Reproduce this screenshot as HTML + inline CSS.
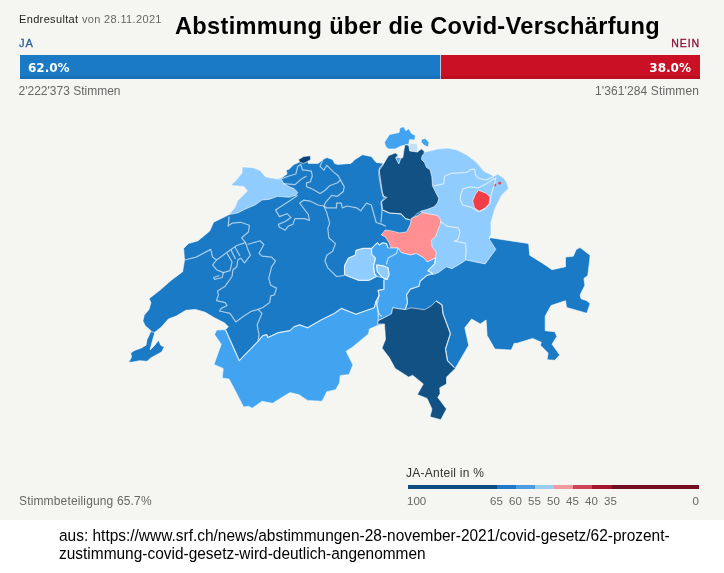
<!DOCTYPE html>
<html lang="de">
<head>
<meta charset="utf-8">
<title>Abstimmung über die Covid-Verschärfung</title>
<style>
html,body{margin:0;padding:0;}
body{width:724px;height:573px;background:#fff;position:relative;overflow:hidden;font-family:"Liberation Sans","DejaVu Sans",sans-serif;}
#panel{position:absolute;left:0;top:0;width:724px;height:520px;background:#f5f5f2;}
.abs{position:absolute;white-space:nowrap;line-height:1;}
#head{left:19px;top:14px;font-size:11px;letter-spacing:0.35px;color:#222;}
#head span{color:#666;}
#title{left:175px;top:15.2px;font-size:23.6px;letter-spacing:0.31px;font-weight:bold;color:#000;}
#ja{left:19px;top:38px;font-size:11px;color:#2d5f9e;letter-spacing:1px;-webkit-text-stroke:0.3px #2d5f9e;}
#nein{right:24px;top:37.5px;font-size:10.5px;color:#8a1538;letter-spacing:0.9px;-webkit-text-stroke:0.3px #8a1538;}
#bar{position:absolute;left:20px;top:55px;width:680px;height:24px;background:#c91024;}
#barja{position:absolute;left:0;top:0;width:420px;height:24px;background:#1a7ac5;border-right:1px solid #b9c9dc;}
#bar:after{content:"";position:absolute;left:0;right:0;bottom:0;height:3px;background:rgba(0,0,0,0.07);}
.pct{font-family:"DejaVu Sans","Liberation Sans",sans-serif;font-weight:bold;font-size:12px;color:#fff;top:7px;}
.sub{font-size:12px;color:#666;top:85px;}
#turn{left:19px;top:495px;font-size:12px;letter-spacing:0.15px;color:#666;}
#legt{left:406px;top:467px;font-size:12px;letter-spacing:0.25px;color:#333;}
#legbar{position:absolute;left:407.5px;top:485px;width:292px;height:4px;}
#legbar i{position:absolute;top:0;height:4px;display:block;}
.ll{top:495.5px;font-size:11.5px;color:#666;}
#foot{position:absolute;left:59px;top:526.2px;font-size:16.3px;line-height:18px;color:#000;white-space:nowrap;transform:scaleX(0.949);transform-origin:0 0;}
#map{position:absolute;left:0;top:0;}
</style>
</head>
<body>
<div id="panel">
<div class="abs" id="head">Endresultat <span>von 28.11.2021</span></div>
<div class="abs" id="title">Abstimmung über die Covid-Verschärfung</div>
<div class="abs" id="ja">JA</div>
<div class="abs" id="nein">NEIN</div>
<div id="bar"><div id="barja"></div>
<div class="abs pct" style="left:8px">62.0%</div>
<div class="abs pct" style="right:9px">38.0%</div>
</div>
<div class="abs sub" style="left:18.5px">2'222'373 Stimmen</div>
<div class="abs sub" style="right:25px;letter-spacing:0.12px">1'361'284 Stimmen</div>
<svg id="map" width="724" height="519" viewBox="0 0 724 519">
<!--MAP-->
<g stroke="#ffffff" stroke-width="1" stroke-linejoin="round" stroke-opacity="0.6">
<polygon points="128.7,362.6 131.6,356.8 130.6,353.0 134.5,350.4 141.3,348.0 146.0,345.2 147.0,339.4 149.0,335.5 151.0,330.7 145.2,325.8 142.9,321.0 144.2,315.2 149.0,309.4 151.0,302.6 149.0,298.7 161.3,289.1 171.0,280.4 182.6,271.7 184.5,260.0 183.6,248.4 188.4,243.6 198.1,240.7 209.7,231.0 213.6,222.3 225.2,216.5 229.1,214.5 235.0,207.5 237.5,201.0 247.5,191.0 244.0,186.5 231.0,185.4 236.4,180.0 242.0,173.0 242.3,167.0 253.0,167.7 260.0,170.5 265.8,177.0 277.4,178.9 281.3,177.9 287.1,174.0 286.1,170.2 289.0,169.2 293.9,164.4 298.7,162.4 299.7,158.6 303.6,156.6 310.3,155.7 310.7,159.5 307.4,161.5 308.4,163.4 318.1,163.4 322.9,159.5 326.8,157.6 332.6,159.5 334.6,163.4 337.5,164.4 351.0,163.4 354.9,159.5 362.6,154.7 371.4,156.6 376.2,162.4 383.9,163.4 388.4,155.8 395.2,152.9 398.3,155.0 396.5,157.2 400.6,157.7 402.8,157.7 403.7,151.4 405.0,144.7 408.7,145.2 409.7,151.0 417.4,152.0 421.3,149.0 424.2,151.0 425.2,152.0 437.8,149.0 447.5,148.1 457.1,150.0 466.8,154.9 475.5,161.6 484.2,171.3 494.0,176.2 497.8,174.2 503.6,178.1 506.5,182.0 508.5,188.7 507.4,189.4 501.6,195.2 494.9,208.7 491.0,222.3 491.0,234.0 489.0,238.7 491.0,237.8 528.7,243.6 529.7,255.2 545.2,264.9 552.0,269.7 565.5,266.8 565.5,257.1 573.3,256.2 576.2,249.4 580.0,247.5 590.1,255.2 589.7,260.0 587.8,275.5 583.9,278.4 584.9,285.2 580.1,294.9 581.0,298.7 586.8,300.7 590.1,303.6 586.8,313.3 566.5,307.4 565.5,300.7 551.0,305.5 545.2,316.2 545.2,330.7 554.9,331.7 556.8,336.5 552.0,344.2 559.7,354.9 554.9,360.3 547.1,359.7 548.1,353.0 540.4,345.2 541.3,342.3 532.6,338.4 517.1,343.3 514.2,343.3 511.3,350.0 494.9,349.1 487.1,335.5 486.1,320.0 480.3,323.9 471.6,319.1 464.8,327.8 468.7,345.2 455.2,368.4 446.5,377.1 446.5,383.9 439.7,387.8 440.1,393.6 437.8,397.5 446.5,409.0 440.7,419.7 430.0,416.8 432.0,409.0 427.1,398.4 417.4,394.6 423.3,383.9 412.6,375.2 408.7,377.1 395.2,368.4 389.4,357.8 382.0,348.0 385.5,339.4 384.5,324.0 378.1,325.2 369.4,329.0 368.4,333.9 352.0,347.5 346.1,351.3 352.9,364.9 349.0,374.6 340.3,375.5 339.5,383.0 335.6,389.7 326.8,391.7 322.0,401.3 307.5,400.4 298.8,394.6 290.0,392.6 283.3,396.5 272.6,403.3 262.0,401.3 252.3,408.1 248.4,406.2 243.6,407.1 235.8,391.7 229.0,379.0 222.3,378.1 223.2,368.4 214.0,364.5 217.4,354.9 221.3,344.2 214.5,334.5 216.8,330.0 225.5,329.7 228.4,326.8 224.6,322.9 214.9,318.1 205.2,312.3 195.5,309.4 185.8,310.3 176.2,316.1 168.4,319.0 161.6,326.8 154.9,332.2 152.0,342.3 150.0,350.0 153.9,346.2 158.7,340.3 160.7,345.2 164.2,347.1 161.6,352.0 151.0,357.8 147.1,361.3 139.4,360.7 134.5,361.7" fill="#1a7ac5"/>
<polygon points="229.1,214.5 235.0,207.5 237.5,201.0 247.5,191.0 244.0,186.5 231.0,185.4 236.4,180.0 242.0,173.0 242.3,167.0 253.0,167.7 260.0,170.5 265.8,177.0 277.4,178.9 281.3,178.9 283.2,182.8 287.1,185.7 293.9,188.6 297.8,192.4 295.8,195.3 289.0,197.3 277.4,196.3 269.7,199.2 262.0,200.0 255.0,205.0 246.0,208.7 237.5,213.0" fill="#90ccfe"/>
<polygon points="298.7,159.5 303.6,156.6 310.3,155.7 310.7,159.5 307.4,161.5 303.6,163.4 299.7,162.4" fill="#0c4273"/>
<polygon points="408.7,145.2 410.0,143.2 416.5,143.5 418.0,147.0 417.4,152.0 409.7,151.0" fill="#c4e0f8"/>
<polygon points="384.5,142.3 389.4,134.5 399.0,132.6 400.0,127.7 403.9,126.8 405.8,130.7 408.7,128.7 411.6,133.6 415.5,135.5 414.5,140.3 409.7,139.4 408.7,144.2 404.9,145.2 401.0,146.1 395.2,149.0 388.4,149.0 385.5,146.1" fill="#42a3f1"/>
<polygon points="421.3,139.4 425.2,138.4 429.0,142.3 428.1,147.1 424.2,145.2 421.3,142.3" fill="#42a3f1"/>
<polygon points="395.6,157.7 400.6,157.7 398.8,164.0" fill="#42a3f1"/>
<polygon points="424.2,151.0 425.2,152.0 437.8,149.0 447.5,148.1 457.1,150.0 466.8,154.9 475.5,161.6 484.2,171.3 494.0,176.2 497.8,174.2 503.6,178.1 506.5,182.0 508.5,188.7 507.4,189.4 501.6,195.2 494.9,208.7 491.0,222.3 491.0,234.0 489.0,238.7 495.8,249.4 485.2,263.9 465.8,260.0 461.7,262.9 452.0,268.7 446.2,266.8 438.4,272.6 432.6,274.6 427.8,270.7 434.6,263.9 435.4,258.0 428.0,256.0 428.0,216.0 422.0,212.6 418.0,208.0 418.0,160.0 420.0,153.0" fill="#90ccfe"/>
<polygon points="388.4,155.8 395.2,152.9 398.3,155.0 395.6,157.7 398.8,164.0 401.0,158.0 402.8,157.7 403.7,151.4 405.0,144.7 408.7,145.2 409.7,151.0 417.4,152.0 421.3,149.0 424.2,151.0 424.0,153.5 422.0,156.0 421.5,159.5 424.5,162.5 426.5,167.5 430.0,169.5 431.8,176.5 432.5,186.0 435.5,192.0 438.8,198.5 437.5,203.0 434.0,206.8 427.0,209.5 421.3,211.0 416.5,214.2 410.6,220.0 405.8,218.8 401.0,213.9 389.4,213.0 382.6,210.0 381.6,201.3 384.5,197.5 381.6,191.6 378.7,174.2 379.7,167.4 383.9,163.4" fill="#115183"/>
<polygon points="478.4,190.3 486.1,193.2 490.0,197.1 489.0,204.9 484.2,208.7 479.4,211.6 474.5,207.8 472.6,201.0 475.5,194.2" fill="#f03e48"/>
<polygon points="381.3,234.9 385.2,230.0 392.0,231.0 399.7,232.9 406.5,232.0 410.4,224.2 411.3,218.4 418.1,215.5 422.0,212.6 437.5,215.5 440.8,220.0 440.0,225.0 437.5,231.0 436.0,236.0 431.5,240.0 432.0,246.5 436.2,252.3 435.4,258.0 427.2,262.0 424.0,258.0 416.4,253.6 410.3,255.0 401.0,252.5 398.0,248.0 391.0,248.0 388.8,242.0 385.2,236.8" fill="#ff8f90"/>
<polygon points="344.5,265.8 348.4,258.1 355.2,255.2 356.1,250.3 362.9,248.4 371.6,248.4 371.6,254.2 375.5,258.1 373.6,265.8 374.5,273.6 376.5,276.5 368.7,280.4 359.0,280.4 351.3,277.5 344.5,274.6" fill="#90ccfe"/>
<polygon points="371.6,248.4 375.5,244.5 377.5,242.8 379.5,245.0 382.5,242.8 386.5,243.5 388.0,248.0 391.0,248.0 398.0,248.0 401.0,252.5 410.3,255.0 416.4,253.6 424.0,258.0 427.2,262.0 435.6,258.0 434.6,263.9 427.8,270.7 432.6,273.6 426.8,275.5 420.0,281.3 419.1,286.2 410.4,289.1 406.5,294.9 407.5,302.6 405.2,309.7 392.6,307.8 391.7,313.6 384.9,317.4 378.1,320.7 378.1,313.6 375.2,308.7 376.2,301.0 379.1,295.2 378.1,290.3 383.9,289.4 383.9,279.7 387.1,279.4 382.3,277.5 376.5,276.5 374.5,273.6 373.6,265.8 375.5,258.1 371.6,254.2" fill="#42a3f1"/>
<polygon points="376.5,264.9 383.3,265.8 388.1,267.8 389.1,274.6 387.1,279.4 382.3,277.5 377.4,271.6" fill="#90ccfe"/>
<polygon points="216.8,330.0 225.5,329.7 239.3,360.7 258.0,341.3 262.9,335.5 266.8,334.6 267.8,337.5 278.4,332.6 290.0,330.7 293.9,326.8 299.7,324.9 307.5,327.8 321.0,320.0 334.6,313.3 341.3,308.4 355.9,314.2 374.2,307.8 376.2,301.0 378.1,313.6 378.1,325.2 369.4,329.0 368.4,333.9 352.0,347.5 346.1,351.3 352.9,364.9 349.0,374.6 340.3,375.5 339.5,383.0 335.6,389.7 326.8,391.7 322.0,401.3 307.5,400.4 298.8,394.6 290.0,392.6 283.3,396.5 272.6,403.3 262.0,401.3 252.3,408.1 248.4,406.2 243.6,407.1 235.8,391.7 229.0,379.0 222.3,378.1 223.2,368.4 214.0,364.5 217.4,354.9 221.3,344.2 214.5,334.5" fill="#42a3f1"/>
<polygon points="378.1,320.7 384.9,317.4 391.7,313.6 392.6,307.8 405.2,309.7 411.0,307.8 424.6,309.7 431.3,305.8 436.2,301.0 442.0,304.9 443.0,313.6 450.4,333.6 445.5,349.0 447.5,360.7 454.2,367.4 455.2,368.4 446.5,377.1 446.5,383.9 439.7,387.8 440.1,393.6 437.8,397.5 446.5,409.0 440.7,419.7 430.0,416.8 432.0,409.0 427.1,398.4 417.4,394.6 423.3,383.9 412.6,375.2 408.7,377.1 395.2,368.4 389.4,357.8 382.0,348.0 385.5,339.4 384.5,324.0 377.7,323.9" fill="#115183"/>
</g>
<circle cx="494.9" cy="185.1" r="1.4" fill="#f03e48"/>
<circle cx="499.7" cy="183.2" r="1.4" fill="#f03e48"/>
<g fill="none" stroke="#ffffff" stroke-width="1.2" stroke-linejoin="round" stroke-opacity="0.62">
<polyline points="433.9,185.8 443.6,183.9 444.6,176.2 451.3,173.3 466.8,172.3 470.7,169.4 474.6,169.4 475.5,175.2 478.4,178.1 486.2,180.0 494.0,176.2"/>
<polyline points="461.0,193.6 463.0,188.7 470.7,186.8 478.4,187.8 486.2,183.9 493.0,179.1 495.9,178.1 493.9,185.8 491.0,195.5 490.0,203.3 484.3,209.1 478.4,211.5 470.7,207.1 463.0,205.2 460.0,199.4 461.0,193.6"/>
<polyline points="305.5,170.2 311.3,171.1 312.3,176.0 310.3,181.8 306.5,182.8 306.5,186.6 313.3,189.5 320.0,193.4 324.9,190.5 329.7,185.7 337.5,182.8 340.4,179.9 338.4,176.0 333.6,172.1 329.7,168.2 326.8,165.3 323.9,170.2 320.0,166.3 322.9,159.5"/>
<polyline points="281.3,178.9 289.0,176.0 295.8,174.0 297.8,166.3 300.7,164.4 302.6,170.2 305.5,170.2"/>
<polyline points="283.2,183.7 294.9,184.7 301.6,178.9 306.5,176.0"/>
<polyline points="297.8,195.3 289.0,201.2 275.5,209.9 279.4,216.6 287.1,213.7 291.0,217.6 285.2,221.5 278.4,224.4 279.4,227.3 285.2,230.2 288.1,226.3 292.9,224.4 294.9,218.6 304.5,218.6 309.4,220.5 308.4,214.7 302.6,207.0 299.7,203.1 303.6,200.2 310.3,201.2 318.1,205.0 323.9,206.0 325.8,202.1 331.7,195.3 337.5,196.3 343.3,191.5 344.2,186.6 340.4,179.9"/>
<polyline points="323.9,206.0 326.8,207.9 336.5,207.9 336.5,203.1 341.3,203.1 342.3,207.9 347.1,206.0 356.8,207.9 360.7,210.8 366.5,203.1 371.3,205.0 376.2,222.5 382.0,224.4 385.9,226.3"/>
<polyline points="383.9,163.4 379.1,170.2 381.0,183.7 383.0,196.3 386.8,197.3 381.0,202.1 382.0,210.8 381.0,222.5"/>
<polyline points="323.9,206.0 326.8,212.8 329.7,223.4 327.8,228.3 328.8,237.7 335.5,243.6 332.6,251.3 326.8,255.2 324.9,261.0 327.8,267.8 336.5,276.5 344.3,275.5"/>
<polyline points="184.5,260.0 196.2,257.1 210.7,249.4 212.6,257.1 216.5,260.0 227.1,252.3 236.8,245.5 245.5,242.6 241.7,237.8 248.4,232.0 249.4,225.2 240.7,222.3 232.0,223.2 228.1,226.1 229.1,216.5"/>
<polyline points="216.5,260.0 212.6,264.9 216.5,269.7 223.3,272.6 230.0,270.7 232.0,262.0 227.1,253.3"/>
<polyline points="223.3,272.6 222.3,277.5 214.6,279.4 213.6,277.5 219.4,275.5"/>
<polyline points="231.0,250.0 235.5,259.0"/>
<polyline points="235.0,247.0 240.0,256.0"/>
<polyline points="245.5,242.6 247.5,248.4 250.4,255.2 244.6,262.9 240.7,258.1 237.8,260.0 236.8,266.8 233.0,269.7 232.0,276.5 225.2,286.2 217.5,291.0 218.4,294.9 216.5,300.7 225.2,302.6 227.1,305.5 221.3,308.4 219.4,311.0 230.0,313.3 235.8,322.0 243.6,316.2 251.3,311.3 258.1,309.4"/>
<polyline points="247.5,244.5 260.0,240.7 263.9,244.5 259.0,253.2 262.0,256.1 271.6,257.1 275.5,261.0 271.6,266.8 268.7,278.4 270.7,285.2 276.5,288.1 274.5,294.9 270.7,295.8 269.7,302.6 262.9,307.5 258.1,309.4 262.0,313.3 257.1,324.9 259.0,334.6 258.0,341.3"/>
<polyline points="225.5,329.7 239.3,360.7 258.0,341.3 262.9,335.5 266.8,334.6 267.8,337.5 278.4,332.6 290.0,330.7 293.9,326.8 299.7,324.9 307.5,327.8 321.0,320.0 334.6,313.3 341.3,308.4 355.9,314.2 374.2,307.8 376.2,301.0 379.1,295.2 378.1,290.3 383.9,289.4 383.9,279.7"/>
<polyline points="379.1,295.2 377.0,305.0 379.0,314.0 382.0,316.5"/>
<polyline points="382.6,210.0 389.4,213.0 401.0,213.9 405.8,218.8 409.7,219.7"/>
<polyline points="398.0,248.0 396.5,253.5 388.1,258.0 386.5,264.5"/>
<polyline points="344.5,265.8 348.4,258.1 355.2,255.2 356.1,250.3 362.9,248.4 371.6,248.4 371.6,254.2 375.5,258.1 373.6,265.8 374.5,273.6 376.5,276.5 368.7,280.4 359.0,280.4 351.3,277.5 344.5,274.6 344.5,265.8"/>
<polyline points="376.5,264.9 383.3,265.8 388.1,267.8 389.1,274.6 387.1,279.4 382.3,277.5 377.4,271.6 376.5,264.9"/>
<polyline points="371.6,248.4 375.5,244.5 377.5,242.8 379.5,245.0 382.5,242.8 386.5,243.5 388.0,248.0"/>
<polyline points="435.6,258.0 434.6,263.9 427.8,270.7 432.6,273.6 426.8,275.5 420.0,281.3 419.1,286.2 410.4,289.1 406.5,294.9 407.5,302.6 405.2,309.7"/>
<polyline points="436.2,301.0 442.0,304.9 443.0,313.6 450.4,333.6 445.5,349.0 447.5,360.7 454.2,367.4"/>
<polyline points="440.6,221.5 447.3,226.4 458.5,227.8 459.9,232.7 457.8,239.7 454.3,241.1 465.5,243.2 466.2,250.9 465.5,257.8 465.8,260.0"/>
<polyline points="150.5,331.5 155.0,332.5"/>
</g>
<!--/MAP-->
</svg>
<div class="abs" id="turn">Stimmbeteiligung 65.7%</div>
<div class="abs" id="legt">JA-Anteil in %</div>
<div id="legbar">
<i style="left:0;width:89.5px;background:#0f4c81"></i>
<i style="left:89.5px;width:19px;background:#1f78c8"></i>
<i style="left:108.5px;width:18.5px;background:#4b9ce0"></i>
<i style="left:127px;width:19px;background:#99ccf5"></i>
<i style="left:146px;width:19px;background:#f09aa0"></i>
<i style="left:165px;width:19px;background:#d04458"></i>
<i style="left:184px;width:20px;background:#a5162f"></i>
<i style="left:204px;width:87.5px;background:#750e20"></i>
</div>
<div class="abs ll" style="left:407px">100</div>
<div class="abs ll" style="left:490px">65</div>
<div class="abs ll" style="left:509px">60</div>
<div class="abs ll" style="left:528px">55</div>
<div class="abs ll" style="left:547px">50</div>
<div class="abs ll" style="left:566px">45</div>
<div class="abs ll" style="left:585px">40</div>
<div class="abs ll" style="left:604px">35</div>
<div class="abs ll" style="right:25px">0</div>
</div>
<div id="foot">aus: https://www.srf.ch/news/abstimmungen-28-november-2021/covid-gesetz/62-prozent-<br>zustimmung-covid-gesetz-wird-deutlich-angenommen</div>
</body>
</html>
